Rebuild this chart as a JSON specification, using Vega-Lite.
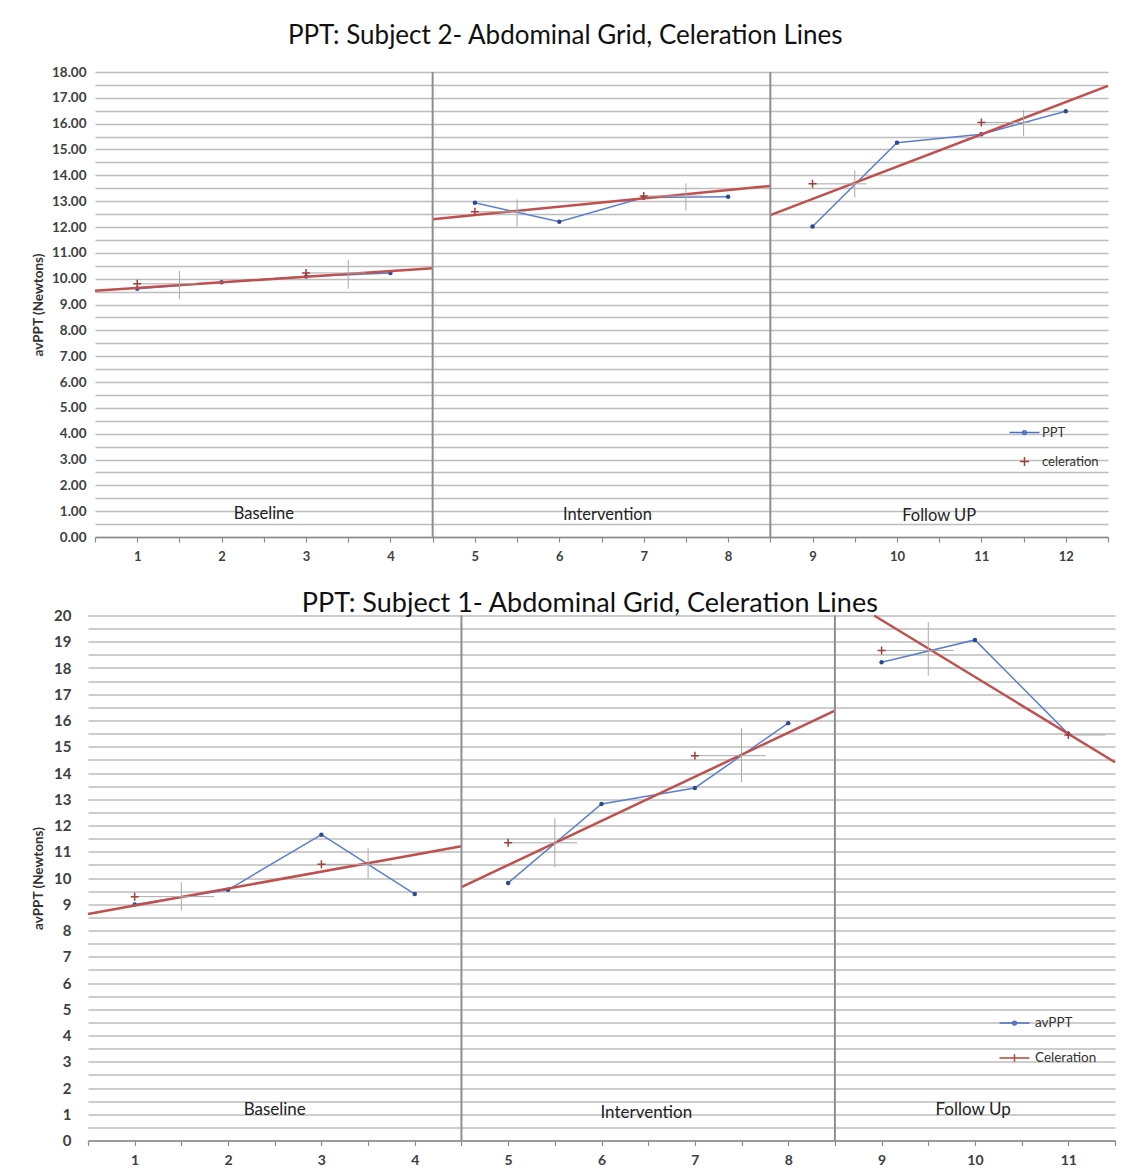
{
  "$schema": "https://vega.github.io/schema/vega-lite/v6.json",
  "padding": {"left": 31, "top": 23, "right": 5, "bottom": 0},
  "background": "white",
  "config": {
    "font": "Lato",
    "view": {"stroke": null},
    "axis": {"labelFont": "Lato", "labelFontWeight": "bold", "labelColor": "#404040", "titleFont": "Lato", "titleFontSize": 13.5, "titleFontWeight": "bold", "titleColor": "#333333", "labelOverlap": false}
  },
  "datasets": {
    "s2_ppt": [
      {"phase": "Baseline", "session": 1, "value": 9.61},
      {"phase": "Baseline", "session": 2, "value": 9.86},
      {"phase": "Baseline", "session": 3, "value": 10.08},
      {"phase": "Baseline", "session": 4, "value": 10.22},
      {"phase": "Intervention", "session": 5, "value": 12.94},
      {"phase": "Intervention", "session": 6, "value": 12.2},
      {"phase": "Intervention", "session": 7, "value": 13.14},
      {"phase": "Intervention", "session": 8, "value": 13.17},
      {"phase": "Follow UP", "session": 9, "value": 12.02},
      {"phase": "Follow UP", "session": 10, "value": 15.26},
      {"phase": "Follow UP", "session": 11, "value": 15.59},
      {"phase": "Follow UP", "session": 12, "value": 16.48}
    ],
    "s2_cel": [
      {"phase": "Baseline", "x": 0.5, "y": 9.53},
      {"phase": "Baseline", "x": 4.5, "y": 10.4},
      {"phase": "Intervention", "x": 4.5, "y": 12.3},
      {"phase": "Intervention", "x": 8.5, "y": 13.59},
      {"phase": "Follow UP", "x": 8.5, "y": 12.46},
      {"phase": "Follow UP", "x": 12.5, "y": 17.46}
    ],
    "s2_q": [
      {"x": 1, "y": 9.8, "xEnd": 1.7, "xMid": 1.5, "yLo": 9.21, "yHi": 10.3},
      {"x": 3, "y": 10.22, "xEnd": 3.7, "xMid": 3.5, "yLo": 9.61, "yHi": 10.72},
      {"x": 5, "y": 12.59, "xEnd": 5.6, "xMid": 5.5, "yLo": 12.01, "yHi": 13.07},
      {"x": 7, "y": 13.2, "xEnd": 7.7, "xMid": 7.5, "yLo": 12.63, "yHi": 13.69},
      {"x": 9, "y": 13.67, "xEnd": 9.64, "xMid": 9.5, "yLo": 13.15, "yHi": 14.2},
      {"x": 11, "y": 16.05, "xEnd": 11.57, "xMid": 11.5, "yLo": 15.52, "yHi": 16.53}
    ],
    "s2_phases": [
      {"phase": "Baseline", "labelX": 2.5, "labelY": 0.9, "start": null},
      {"phase": "Intervention", "labelX": 6.57, "labelY": 0.85, "start": 4.5},
      {"phase": "Follow UP", "labelX": 10.5, "labelY": 0.8, "start": 8.5}
    ],
    "s2_legend": [{"series": "PPT"}, {"series": "celeration"}],
    "s1_ppt": [
      {"phase": "Baseline", "session": 1, "value": 8.99},
      {"phase": "Baseline", "session": 2, "value": 9.55},
      {"phase": "Baseline", "session": 3, "value": 11.65},
      {"phase": "Baseline", "session": 4, "value": 9.39},
      {"phase": "Intervention", "session": 5, "value": 9.81},
      {"phase": "Intervention", "session": 6, "value": 12.82},
      {"phase": "Intervention", "session": 7, "value": 13.43},
      {"phase": "Intervention", "session": 8, "value": 15.9},
      {"phase": "Follow Up", "session": 9, "value": 18.22},
      {"phase": "Follow Up", "session": 10, "value": 19.07},
      {"phase": "Follow Up", "session": 11, "value": 15.49}
    ],
    "s1_cel": [
      {"phase": "Baseline", "x": 0.5, "y": 8.63},
      {"phase": "Baseline", "x": 4.5, "y": 11.21},
      {"phase": "Intervention", "x": 4.5, "y": 9.65},
      {"phase": "Intervention", "x": 8.5, "y": 16.38},
      {"phase": "Follow Up", "x": 8.92, "y": 20.0},
      {"phase": "Follow Up", "x": 11.5, "y": 14.41}
    ],
    "s1_q": [
      {"x": 1, "y": 9.29, "xEnd": 1.85, "xMid": 1.5, "yLo": 8.76, "yHi": 9.84},
      {"x": 3, "y": 10.52, "xEnd": 3.75, "xMid": 3.5, "yLo": 9.97, "yHi": 11.14},
      {"x": 5, "y": 11.34, "xEnd": 5.74, "xMid": 5.5, "yLo": 10.41, "yHi": 12.28},
      {"x": 7, "y": 14.66, "xEnd": 7.76, "xMid": 7.5, "yLo": 13.65, "yHi": 15.71},
      {"x": 9, "y": 18.67, "xEnd": 9.77, "xMid": 9.5, "yLo": 17.71, "yHi": 19.75},
      {"x": 11, "y": 15.45, "xEnd": 11.4, "xMid": null, "yLo": null, "yHi": null}
    ],
    "s1_phases": [
      {"phase": "Baseline", "labelX": 2.5, "labelY": 1.16, "start": null},
      {"phase": "Intervention", "labelX": 6.48, "labelY": 1.05, "start": 4.5},
      {"phase": "Follow Up", "labelX": 9.98, "labelY": 1.16, "start": 8.5}
    ],
    "s1_legend": [{"series": "avPPT"}, {"series": "Celeration"}]
  },
  "spacing": 26.5,
  "center": true,
  "resolve": {"scale": {"color": "independent", "shape": "independent", "x": "independent", "y": "independent"}, "legend": {"color": "independent", "shape": "independent"}},
  "vconcat": [
    {
      "width": 1013,
      "height": 465,
      "title": {"text": "PPT: Subject 2- Abdominal Grid, Celeration Lines", "fontSize": 26, "fontWeight": "normal", "font": "Lato", "color": "#111111", "anchor": "middle", "frame": "bounds", "offset": 16, "dx": -7},
      "layer": [
        {
          "data": {"name": "s2_ppt"},
          "mark": {"type": "line", "color": "#5b7fcf", "strokeWidth": 1.5},
          "encoding": {
            "x": {"field": "session", "type": "quantitative", "scale": {"domain": [0.5, 12.5], "nice": false, "zero": false},
              "axis": {"title": null, "values": [0.5,1,1.5,2,2.5,3,3.5,4,4.5,5,5.5,6,6.5,7,7.5,8,8.5,9,9.5,10,10.5,11,11.5,12,12.5], "labelExpr": "datum.value % 1 === 0 ? format(datum.value, 'd') : ''", "labelFontSize": 13, "grid": false, "domainColor": "#8a8a8a", "domainWidth": 1.5, "tickColor": "#8a8a8a", "tickWidth": 1.2, "tickSize": 5, "labelPadding": 8, "labelFlush": false}},
            "y": {"field": "value", "type": "quantitative", "scale": {"domain": [0, 18], "nice": false},
              "axis": {"title": "avPPT (Newtons)", "values": [0,0.5,1,1.5,2,2.5,3,3.5,4,4.5,5,5.5,6,6.5,7,7.5,8,8.5,9,9.5,10,10.5,11,11.5,12,12.5,13,13.5,14,14.5,15,15.5,16,16.5,17,17.5,18], "labelExpr": "datum.value % 1 === 0 ? format(datum.value, '.2f') : ''", "labelFontSize": 13.5, "grid": true, "gridColor": "#bdbdbd", "gridWidth": 1.5, "domain": false, "ticks": false, "labelPadding": 9, "titlePadding": 6}},
            "detail": {"field": "phase"}
          }
        },
        {
          "data": {"name": "s2_ppt"},
          "mark": {"type": "point", "filled": true, "size": 20, "color": "#2c4a94", "opacity": 1},
          "encoding": {
            "x": {"field": "session", "type": "quantitative", "scale": {"domain": [0.5, 12.5], "nice": false, "zero": false},
              "axis": {"title": null, "values": [0.5,1,1.5,2,2.5,3,3.5,4,4.5,5,5.5,6,6.5,7,7.5,8,8.5,9,9.5,10,10.5,11,11.5,12,12.5], "labelExpr": "datum.value % 1 === 0 ? format(datum.value, 'd') : ''", "labelFontSize": 13, "grid": false, "domainColor": "#8a8a8a", "domainWidth": 1.5, "tickColor": "#8a8a8a", "tickWidth": 1.2, "tickSize": 5, "labelPadding": 8, "labelFlush": false}},
            "y": {"field": "value", "type": "quantitative", "scale": {"domain": [0, 18], "nice": false},
              "axis": {"title": "avPPT (Newtons)", "values": [0,0.5,1,1.5,2,2.5,3,3.5,4,4.5,5,5.5,6,6.5,7,7.5,8,8.5,9,9.5,10,10.5,11,11.5,12,12.5,13,13.5,14,14.5,15,15.5,16,16.5,17,17.5,18], "labelExpr": "datum.value % 1 === 0 ? format(datum.value, '.2f') : ''", "labelFontSize": 13.5, "grid": true, "gridColor": "#bdbdbd", "gridWidth": 1.5, "domain": false, "ticks": false, "labelPadding": 9, "titlePadding": 6}}
          }
        },
        {
          "data": {"name": "s2_cel"},
          "mark": {"type": "line", "color": "#c0504d", "strokeWidth": 2.5},
          "encoding": {
            "x": {"field": "x", "type": "quantitative", "scale": {"domain": [0.5, 12.5], "nice": false, "zero": false},
              "axis": {"title": null, "values": [0.5,1,1.5,2,2.5,3,3.5,4,4.5,5,5.5,6,6.5,7,7.5,8,8.5,9,9.5,10,10.5,11,11.5,12,12.5], "labelExpr": "datum.value % 1 === 0 ? format(datum.value, 'd') : ''", "labelFontSize": 13, "grid": false, "domainColor": "#8a8a8a", "domainWidth": 1.5, "tickColor": "#8a8a8a", "tickWidth": 1.2, "tickSize": 5, "labelPadding": 8, "labelFlush": false}},
            "y": {"field": "y", "type": "quantitative", "scale": {"domain": [0, 18], "nice": false},
              "axis": {"title": "avPPT (Newtons)", "values": [0,0.5,1,1.5,2,2.5,3,3.5,4,4.5,5,5.5,6,6.5,7,7.5,8,8.5,9,9.5,10,10.5,11,11.5,12,12.5,13,13.5,14,14.5,15,15.5,16,16.5,17,17.5,18], "labelExpr": "datum.value % 1 === 0 ? format(datum.value, '.2f') : ''", "labelFontSize": 13.5, "grid": true, "gridColor": "#bdbdbd", "gridWidth": 1.5, "domain": false, "ticks": false, "labelPadding": 9, "titlePadding": 6}},
            "detail": {"field": "phase"}
          }
        },
        {
          "data": {"name": "s2_q"},
          "mark": {"type": "rule", "color": "#a8a8a8", "strokeWidth": 1},
          "encoding": {
            "x": {"field": "x", "type": "quantitative", "scale": {"domain": [0.5, 12.5], "nice": false, "zero": false},
              "axis": {"title": null, "values": [0.5,1,1.5,2,2.5,3,3.5,4,4.5,5,5.5,6,6.5,7,7.5,8,8.5,9,9.5,10,10.5,11,11.5,12,12.5], "labelExpr": "datum.value % 1 === 0 ? format(datum.value, 'd') : ''", "labelFontSize": 13, "grid": false, "domainColor": "#8a8a8a", "domainWidth": 1.5, "tickColor": "#8a8a8a", "tickWidth": 1.2, "tickSize": 5, "labelPadding": 8, "labelFlush": false}},
            "x2": {"field": "xEnd"},
            "y": {"field": "y", "type": "quantitative", "scale": {"domain": [0, 18], "nice": false},
              "axis": {"title": "avPPT (Newtons)", "values": [0,0.5,1,1.5,2,2.5,3,3.5,4,4.5,5,5.5,6,6.5,7,7.5,8,8.5,9,9.5,10,10.5,11,11.5,12,12.5,13,13.5,14,14.5,15,15.5,16,16.5,17,17.5,18], "labelExpr": "datum.value % 1 === 0 ? format(datum.value, '.2f') : ''", "labelFontSize": 13.5, "grid": true, "gridColor": "#bdbdbd", "gridWidth": 1.5, "domain": false, "ticks": false, "labelPadding": 9, "titlePadding": 6}}
          }
        },
        {
          "data": {"name": "s2_q"},
          "mark": {"type": "rule", "color": "#a8a8a8", "strokeWidth": 1},
          "encoding": {
            "x": {"field": "xMid", "type": "quantitative", "scale": {"domain": [0.5, 12.5], "nice": false, "zero": false},
              "axis": {"title": null, "values": [0.5,1,1.5,2,2.5,3,3.5,4,4.5,5,5.5,6,6.5,7,7.5,8,8.5,9,9.5,10,10.5,11,11.5,12,12.5], "labelExpr": "datum.value % 1 === 0 ? format(datum.value, 'd') : ''", "labelFontSize": 13, "grid": false, "domainColor": "#8a8a8a", "domainWidth": 1.5, "tickColor": "#8a8a8a", "tickWidth": 1.2, "tickSize": 5, "labelPadding": 8, "labelFlush": false}},
            "y": {"field": "yLo", "type": "quantitative", "scale": {"domain": [0, 18], "nice": false},
              "axis": {"title": "avPPT (Newtons)", "values": [0,0.5,1,1.5,2,2.5,3,3.5,4,4.5,5,5.5,6,6.5,7,7.5,8,8.5,9,9.5,10,10.5,11,11.5,12,12.5,13,13.5,14,14.5,15,15.5,16,16.5,17,17.5,18], "labelExpr": "datum.value % 1 === 0 ? format(datum.value, '.2f') : ''", "labelFontSize": 13.5, "grid": true, "gridColor": "#bdbdbd", "gridWidth": 1.5, "domain": false, "ticks": false, "labelPadding": 9, "titlePadding": 6}},
            "y2": {"field": "yHi"}
          }
        },
        {
          "data": {"name": "s2_q"},
          "mark": {"type": "point", "shape": "M-1,0H1M0,-1V1", "filled": false, "size": 64, "color": "#a0403d", "strokeWidth": 1.5, "opacity": 1},
          "encoding": {
            "x": {"field": "x", "type": "quantitative", "scale": {"domain": [0.5, 12.5], "nice": false, "zero": false},
              "axis": {"title": null, "values": [0.5,1,1.5,2,2.5,3,3.5,4,4.5,5,5.5,6,6.5,7,7.5,8,8.5,9,9.5,10,10.5,11,11.5,12,12.5], "labelExpr": "datum.value % 1 === 0 ? format(datum.value, 'd') : ''", "labelFontSize": 13, "grid": false, "domainColor": "#8a8a8a", "domainWidth": 1.5, "tickColor": "#8a8a8a", "tickWidth": 1.2, "tickSize": 5, "labelPadding": 8, "labelFlush": false}},
            "y": {"field": "y", "type": "quantitative", "scale": {"domain": [0, 18], "nice": false},
              "axis": {"title": "avPPT (Newtons)", "values": [0,0.5,1,1.5,2,2.5,3,3.5,4,4.5,5,5.5,6,6.5,7,7.5,8,8.5,9,9.5,10,10.5,11,11.5,12,12.5,13,13.5,14,14.5,15,15.5,16,16.5,17,17.5,18], "labelExpr": "datum.value % 1 === 0 ? format(datum.value, '.2f') : ''", "labelFontSize": 13.5, "grid": true, "gridColor": "#bdbdbd", "gridWidth": 1.5, "domain": false, "ticks": false, "labelPadding": 9, "titlePadding": 6}}
          }
        },
        {
          "data": {"name": "s2_phases"},
          "transform": [{"filter": "isValid(datum.start)"}],
          "mark": {"type": "rule", "color": "#8f8f8f", "strokeWidth": 2},
          "encoding": {
            "x": {"field": "start", "type": "quantitative", "scale": {"domain": [0.5, 12.5], "nice": false, "zero": false},
              "axis": {"title": null, "values": [0.5,1,1.5,2,2.5,3,3.5,4,4.5,5,5.5,6,6.5,7,7.5,8,8.5,9,9.5,10,10.5,11,11.5,12,12.5], "labelExpr": "datum.value % 1 === 0 ? format(datum.value, 'd') : ''", "labelFontSize": 13, "grid": false, "domainColor": "#8a8a8a", "domainWidth": 1.5, "tickColor": "#8a8a8a", "tickWidth": 1.2, "tickSize": 5, "labelPadding": 8, "labelFlush": false}}
          }
        },
        {
          "data": {"name": "s2_phases"},
          "mark": {"type": "text", "fontSize": 16.5, "font": "Lato", "color": "#222222", "baseline": "middle", "align": "center"},
          "encoding": {
            "x": {"field": "labelX", "type": "quantitative", "scale": {"domain": [0.5, 12.5], "nice": false, "zero": false},
              "axis": {"title": null, "values": [0.5,1,1.5,2,2.5,3,3.5,4,4.5,5,5.5,6,6.5,7,7.5,8,8.5,9,9.5,10,10.5,11,11.5,12,12.5], "labelExpr": "datum.value % 1 === 0 ? format(datum.value, 'd') : ''", "labelFontSize": 13, "grid": false, "domainColor": "#8a8a8a", "domainWidth": 1.5, "tickColor": "#8a8a8a", "tickWidth": 1.2, "tickSize": 5, "labelPadding": 8, "labelFlush": false}},
            "y": {"field": "labelY", "type": "quantitative", "scale": {"domain": [0, 18], "nice": false},
              "axis": {"title": "avPPT (Newtons)", "values": [0,0.5,1,1.5,2,2.5,3,3.5,4,4.5,5,5.5,6,6.5,7,7.5,8,8.5,9,9.5,10,10.5,11,11.5,12,12.5,13,13.5,14,14.5,15,15.5,16,16.5,17,17.5,18], "labelExpr": "datum.value % 1 === 0 ? format(datum.value, '.2f') : ''", "labelFontSize": 13.5, "grid": true, "gridColor": "#bdbdbd", "gridWidth": 1.5, "domain": false, "ticks": false, "labelPadding": 9, "titlePadding": 6}},
            "text": {"field": "phase"}
          }
        },
        {
          "data": {"name": "s2_legend"},
          "transform": [{"filter": "false"}],
          "mark": {"type": "point", "filled": false, "strokeWidth": 1.5, "opacity": 1},
          "encoding": {
            "color": {"field": "series", "type": "nominal", "scale": {"domain": ["PPT", "celeration"], "range": ["#4f6fc4", "#a0403d"]},
              "legend": {"orient": "none", "legendX": 921, "legendY": 352, "title": null, "symbolSize": 225, "rowPadding": 13, "labelOffset": 9, "labelFontSize": 13, "labelFont": "Lato", "labelColor": "#333333", "padding": 0, "symbolStrokeWidth": 1.5, "symbolOpacity": 1}},
            "shape": {"field": "series", "type": "nominal", "scale": {"domain": ["PPT", "celeration"], "range": ["M-2,0H2M-0.25,0A0.25,0.25 0 1,1 0.25,0A0.25,0.25 0 1,1 -0.25,0", "M-0.6,0H0.6M0,-0.6V0.6"]},
              "legend": {"orient": "none", "legendX": 921, "legendY": 352, "title": null, "symbolSize": 225, "rowPadding": 13, "labelOffset": 9, "labelFontSize": 13, "labelFont": "Lato", "labelColor": "#333333", "padding": 0, "symbolStrokeWidth": 1.5, "symbolOpacity": 1}}
          }
        }
      ]
    },
    {
      "width": 1027,
      "height": 525,
      "title": {"text": "PPT: Subject 1- Abdominal Grid, Celeration Lines", "fontSize": 27, "fontWeight": "normal", "font": "Lato", "color": "#111111", "anchor": "middle", "frame": "bounds", "offset": -9, "dx": 14},
      "layer": [
        {
          "data": {"name": "s1_ppt"},
          "mark": {"type": "line", "color": "#5b7fcf", "strokeWidth": 1.5},
          "encoding": {
            "x": {"field": "session", "type": "quantitative", "scale": {"domain": [0.5, 11.5], "nice": false, "zero": false},
              "axis": {"title": null, "values": [0.5,1,1.5,2,2.5,3,3.5,4,4.5,5,5.5,6,6.5,7,7.5,8,8.5,9,9.5,10,10.5,11,11.5], "labelExpr": "datum.value % 1 === 0 ? format(datum.value, 'd') : ''", "labelFontSize": 14, "grid": false, "domainColor": "#8a8a8a", "domainWidth": 1.5, "tickColor": "#8a8a8a", "tickWidth": 1.2, "tickSize": 5, "labelPadding": 8, "labelFlush": false}},
            "y": {"field": "value", "type": "quantitative", "scale": {"domain": [0, 20], "nice": false},
              "axis": {"title": "avPPT (Newtons)", "values": [0,0.5,1,1.5,2,2.5,3,3.5,4,4.5,5,5.5,6,6.5,7,7.5,8,8.5,9,9.5,10,10.5,11,11.5,12,12.5,13,13.5,14,14.5,15,15.5,16,16.5,17,17.5,18,18.5,19,19.5,20], "labelExpr": "datum.value % 1 === 0 ? format(datum.value, 'd') : ''", "labelFontSize": 15, "grid": true, "gridColor": "#bdbdbd", "gridWidth": 1.5, "domain": false, "ticks": false, "labelPadding": 17, "titlePadding": 8}},
            "detail": {"field": "phase"}
          }
        },
        {
          "data": {"name": "s1_ppt"},
          "mark": {"type": "point", "filled": true, "size": 20, "color": "#2c4a94", "opacity": 1},
          "encoding": {
            "x": {"field": "session", "type": "quantitative", "scale": {"domain": [0.5, 11.5], "nice": false, "zero": false},
              "axis": {"title": null, "values": [0.5,1,1.5,2,2.5,3,3.5,4,4.5,5,5.5,6,6.5,7,7.5,8,8.5,9,9.5,10,10.5,11,11.5], "labelExpr": "datum.value % 1 === 0 ? format(datum.value, 'd') : ''", "labelFontSize": 14, "grid": false, "domainColor": "#8a8a8a", "domainWidth": 1.5, "tickColor": "#8a8a8a", "tickWidth": 1.2, "tickSize": 5, "labelPadding": 8, "labelFlush": false}},
            "y": {"field": "value", "type": "quantitative", "scale": {"domain": [0, 20], "nice": false},
              "axis": {"title": "avPPT (Newtons)", "values": [0,0.5,1,1.5,2,2.5,3,3.5,4,4.5,5,5.5,6,6.5,7,7.5,8,8.5,9,9.5,10,10.5,11,11.5,12,12.5,13,13.5,14,14.5,15,15.5,16,16.5,17,17.5,18,18.5,19,19.5,20], "labelExpr": "datum.value % 1 === 0 ? format(datum.value, 'd') : ''", "labelFontSize": 15, "grid": true, "gridColor": "#bdbdbd", "gridWidth": 1.5, "domain": false, "ticks": false, "labelPadding": 17, "titlePadding": 8}}
          }
        },
        {
          "data": {"name": "s1_cel"},
          "mark": {"type": "line", "color": "#c0504d", "strokeWidth": 2.5},
          "encoding": {
            "x": {"field": "x", "type": "quantitative", "scale": {"domain": [0.5, 11.5], "nice": false, "zero": false},
              "axis": {"title": null, "values": [0.5,1,1.5,2,2.5,3,3.5,4,4.5,5,5.5,6,6.5,7,7.5,8,8.5,9,9.5,10,10.5,11,11.5], "labelExpr": "datum.value % 1 === 0 ? format(datum.value, 'd') : ''", "labelFontSize": 14, "grid": false, "domainColor": "#8a8a8a", "domainWidth": 1.5, "tickColor": "#8a8a8a", "tickWidth": 1.2, "tickSize": 5, "labelPadding": 8, "labelFlush": false}},
            "y": {"field": "y", "type": "quantitative", "scale": {"domain": [0, 20], "nice": false},
              "axis": {"title": "avPPT (Newtons)", "values": [0,0.5,1,1.5,2,2.5,3,3.5,4,4.5,5,5.5,6,6.5,7,7.5,8,8.5,9,9.5,10,10.5,11,11.5,12,12.5,13,13.5,14,14.5,15,15.5,16,16.5,17,17.5,18,18.5,19,19.5,20], "labelExpr": "datum.value % 1 === 0 ? format(datum.value, 'd') : ''", "labelFontSize": 15, "grid": true, "gridColor": "#bdbdbd", "gridWidth": 1.5, "domain": false, "ticks": false, "labelPadding": 17, "titlePadding": 8}},
            "detail": {"field": "phase"}
          }
        },
        {
          "data": {"name": "s1_q"},
          "mark": {"type": "rule", "color": "#a8a8a8", "strokeWidth": 1},
          "encoding": {
            "x": {"field": "x", "type": "quantitative", "scale": {"domain": [0.5, 11.5], "nice": false, "zero": false},
              "axis": {"title": null, "values": [0.5,1,1.5,2,2.5,3,3.5,4,4.5,5,5.5,6,6.5,7,7.5,8,8.5,9,9.5,10,10.5,11,11.5], "labelExpr": "datum.value % 1 === 0 ? format(datum.value, 'd') : ''", "labelFontSize": 14, "grid": false, "domainColor": "#8a8a8a", "domainWidth": 1.5, "tickColor": "#8a8a8a", "tickWidth": 1.2, "tickSize": 5, "labelPadding": 8, "labelFlush": false}},
            "x2": {"field": "xEnd"},
            "y": {"field": "y", "type": "quantitative", "scale": {"domain": [0, 20], "nice": false},
              "axis": {"title": "avPPT (Newtons)", "values": [0,0.5,1,1.5,2,2.5,3,3.5,4,4.5,5,5.5,6,6.5,7,7.5,8,8.5,9,9.5,10,10.5,11,11.5,12,12.5,13,13.5,14,14.5,15,15.5,16,16.5,17,17.5,18,18.5,19,19.5,20], "labelExpr": "datum.value % 1 === 0 ? format(datum.value, 'd') : ''", "labelFontSize": 15, "grid": true, "gridColor": "#bdbdbd", "gridWidth": 1.5, "domain": false, "ticks": false, "labelPadding": 17, "titlePadding": 8}}
          }
        },
        {
          "data": {"name": "s1_q"},
          "transform": [{"filter": "isValid(datum.xMid)"}],
          "mark": {"type": "rule", "color": "#a8a8a8", "strokeWidth": 1},
          "encoding": {
            "x": {"field": "xMid", "type": "quantitative", "scale": {"domain": [0.5, 11.5], "nice": false, "zero": false},
              "axis": {"title": null, "values": [0.5,1,1.5,2,2.5,3,3.5,4,4.5,5,5.5,6,6.5,7,7.5,8,8.5,9,9.5,10,10.5,11,11.5], "labelExpr": "datum.value % 1 === 0 ? format(datum.value, 'd') : ''", "labelFontSize": 14, "grid": false, "domainColor": "#8a8a8a", "domainWidth": 1.5, "tickColor": "#8a8a8a", "tickWidth": 1.2, "tickSize": 5, "labelPadding": 8, "labelFlush": false}},
            "y": {"field": "yLo", "type": "quantitative", "scale": {"domain": [0, 20], "nice": false},
              "axis": {"title": "avPPT (Newtons)", "values": [0,0.5,1,1.5,2,2.5,3,3.5,4,4.5,5,5.5,6,6.5,7,7.5,8,8.5,9,9.5,10,10.5,11,11.5,12,12.5,13,13.5,14,14.5,15,15.5,16,16.5,17,17.5,18,18.5,19,19.5,20], "labelExpr": "datum.value % 1 === 0 ? format(datum.value, 'd') : ''", "labelFontSize": 15, "grid": true, "gridColor": "#bdbdbd", "gridWidth": 1.5, "domain": false, "ticks": false, "labelPadding": 17, "titlePadding": 8}},
            "y2": {"field": "yHi"}
          }
        },
        {
          "data": {"name": "s1_q"},
          "mark": {"type": "point", "shape": "M-1,0H1M0,-1V1", "filled": false, "size": 64, "color": "#a0403d", "strokeWidth": 1.5, "opacity": 1},
          "encoding": {
            "x": {"field": "x", "type": "quantitative", "scale": {"domain": [0.5, 11.5], "nice": false, "zero": false},
              "axis": {"title": null, "values": [0.5,1,1.5,2,2.5,3,3.5,4,4.5,5,5.5,6,6.5,7,7.5,8,8.5,9,9.5,10,10.5,11,11.5], "labelExpr": "datum.value % 1 === 0 ? format(datum.value, 'd') : ''", "labelFontSize": 14, "grid": false, "domainColor": "#8a8a8a", "domainWidth": 1.5, "tickColor": "#8a8a8a", "tickWidth": 1.2, "tickSize": 5, "labelPadding": 8, "labelFlush": false}},
            "y": {"field": "y", "type": "quantitative", "scale": {"domain": [0, 20], "nice": false},
              "axis": {"title": "avPPT (Newtons)", "values": [0,0.5,1,1.5,2,2.5,3,3.5,4,4.5,5,5.5,6,6.5,7,7.5,8,8.5,9,9.5,10,10.5,11,11.5,12,12.5,13,13.5,14,14.5,15,15.5,16,16.5,17,17.5,18,18.5,19,19.5,20], "labelExpr": "datum.value % 1 === 0 ? format(datum.value, 'd') : ''", "labelFontSize": 15, "grid": true, "gridColor": "#bdbdbd", "gridWidth": 1.5, "domain": false, "ticks": false, "labelPadding": 17, "titlePadding": 8}}
          }
        },
        {
          "data": {"name": "s1_phases"},
          "transform": [{"filter": "isValid(datum.start)"}],
          "mark": {"type": "rule", "color": "#8f8f8f", "strokeWidth": 2},
          "encoding": {
            "x": {"field": "start", "type": "quantitative", "scale": {"domain": [0.5, 11.5], "nice": false, "zero": false},
              "axis": {"title": null, "values": [0.5,1,1.5,2,2.5,3,3.5,4,4.5,5,5.5,6,6.5,7,7.5,8,8.5,9,9.5,10,10.5,11,11.5], "labelExpr": "datum.value % 1 === 0 ? format(datum.value, 'd') : ''", "labelFontSize": 14, "grid": false, "domainColor": "#8a8a8a", "domainWidth": 1.5, "tickColor": "#8a8a8a", "tickWidth": 1.2, "tickSize": 5, "labelPadding": 8, "labelFlush": false}}
          }
        },
        {
          "data": {"name": "s1_phases"},
          "mark": {"type": "text", "fontSize": 17, "font": "Lato", "color": "#222222", "baseline": "middle", "align": "center"},
          "encoding": {
            "x": {"field": "labelX", "type": "quantitative", "scale": {"domain": [0.5, 11.5], "nice": false, "zero": false},
              "axis": {"title": null, "values": [0.5,1,1.5,2,2.5,3,3.5,4,4.5,5,5.5,6,6.5,7,7.5,8,8.5,9,9.5,10,10.5,11,11.5], "labelExpr": "datum.value % 1 === 0 ? format(datum.value, 'd') : ''", "labelFontSize": 14, "grid": false, "domainColor": "#8a8a8a", "domainWidth": 1.5, "tickColor": "#8a8a8a", "tickWidth": 1.2, "tickSize": 5, "labelPadding": 8, "labelFlush": false}},
            "y": {"field": "labelY", "type": "quantitative", "scale": {"domain": [0, 20], "nice": false},
              "axis": {"title": "avPPT (Newtons)", "values": [0,0.5,1,1.5,2,2.5,3,3.5,4,4.5,5,5.5,6,6.5,7,7.5,8,8.5,9,9.5,10,10.5,11,11.5,12,12.5,13,13.5,14,14.5,15,15.5,16,16.5,17,17.5,18,18.5,19,19.5,20], "labelExpr": "datum.value % 1 === 0 ? format(datum.value, 'd') : ''", "labelFontSize": 15, "grid": true, "gridColor": "#bdbdbd", "gridWidth": 1.5, "domain": false, "ticks": false, "labelPadding": 17, "titlePadding": 8}},
            "text": {"field": "phase"}
          }
        },
        {
          "data": {"name": "s1_legend"},
          "transform": [{"filter": "false"}],
          "mark": {"type": "point", "filled": false, "strokeWidth": 1.5, "opacity": 1},
          "encoding": {
            "color": {"field": "series", "type": "nominal", "scale": {"domain": ["avPPT", "Celeration"], "range": ["#4f6fc4", "#b5453f"]},
              "legend": {"orient": "none", "legendX": 918, "legendY": 399, "title": null, "symbolSize": 225, "rowPadding": 20, "labelOffset": 12, "labelFontSize": 13.5, "labelFont": "Lato", "labelColor": "#333333", "padding": 0, "symbolStrokeWidth": 1.5, "symbolOpacity": 1}},
            "shape": {"field": "series", "type": "nominal", "scale": {"domain": ["avPPT", "Celeration"], "range": ["M-2,0H2M-0.25,0A0.25,0.25 0 1,1 0.25,0A0.25,0.25 0 1,1 -0.25,0", "M-2,0H2M0,-0.5V0.5"]},
              "legend": {"orient": "none", "legendX": 918, "legendY": 399, "title": null, "symbolSize": 225, "rowPadding": 20, "labelOffset": 12, "labelFontSize": 13.5, "labelFont": "Lato", "labelColor": "#333333", "padding": 0, "symbolStrokeWidth": 1.5, "symbolOpacity": 1}}
          }
        }
      ]
    }
  ]
}
